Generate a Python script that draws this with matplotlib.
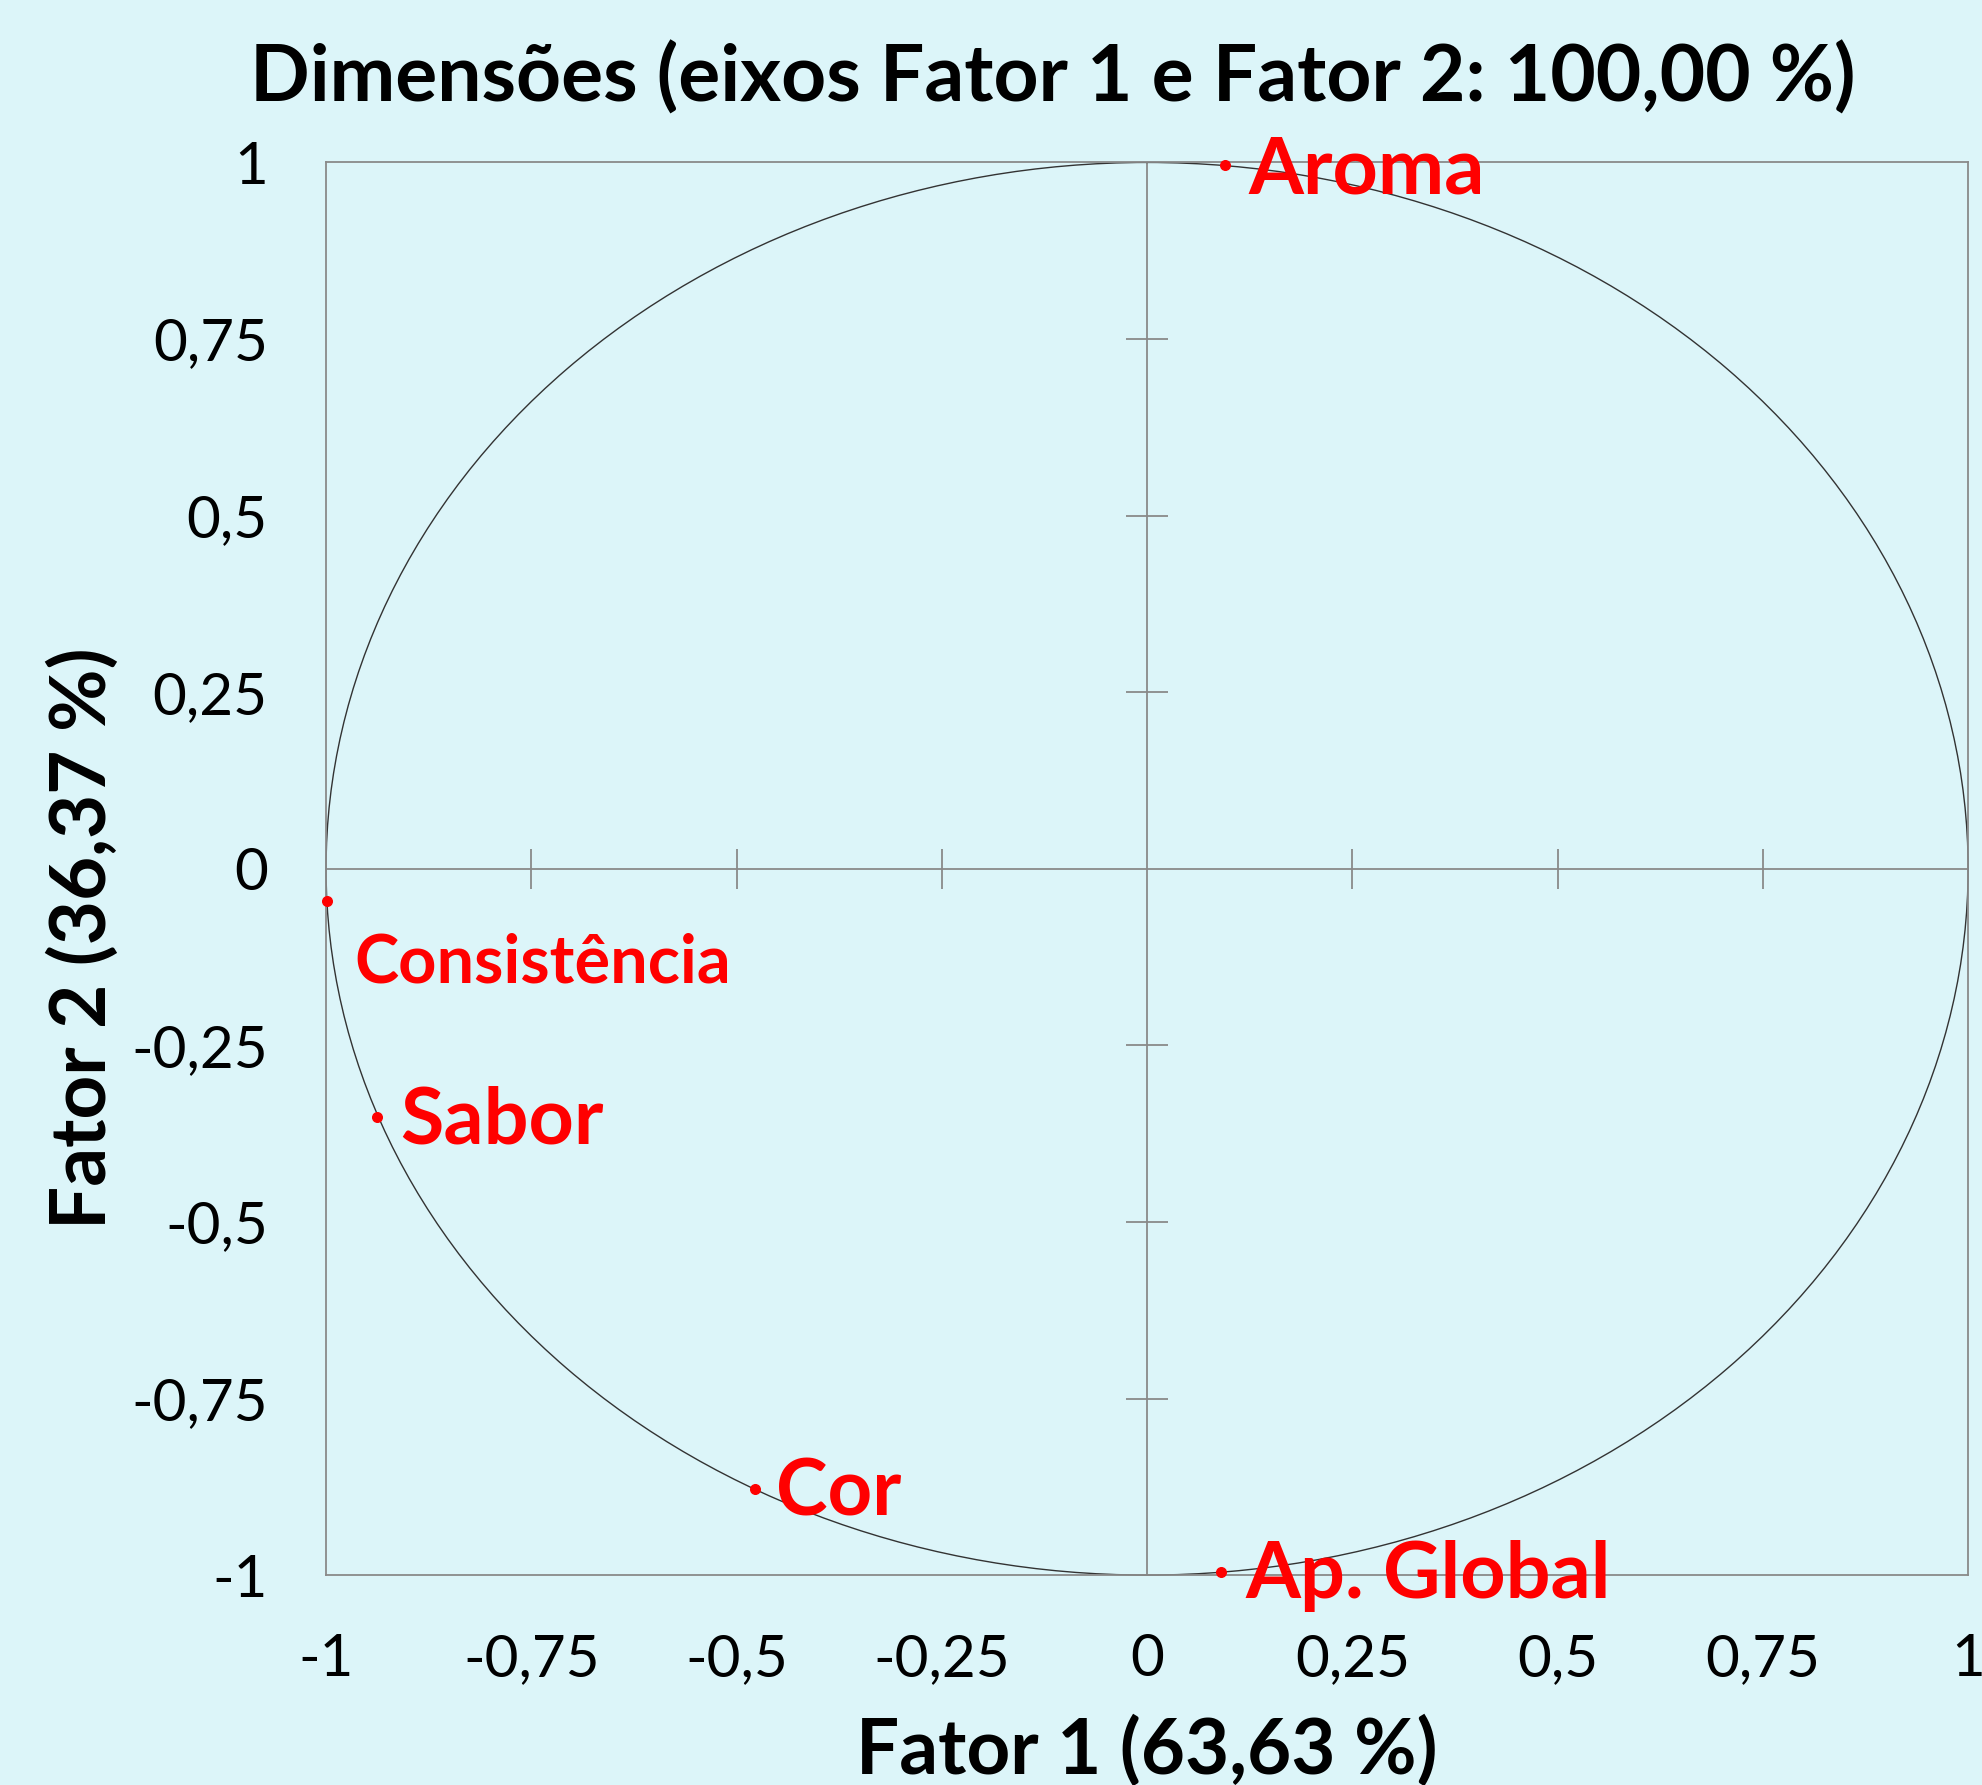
import numpy as np
import matplotlib.pyplot as plt
from matplotlib.patches import Circle

plt.rcParams['font.family'] = ['Lato', 'DejaVu Sans']

# variaveis (correlacoes com os fatores)
variaveis = ['Aroma', 'Consistência', 'Sabor', 'Cor', 'Ap. Global']
fator1 = [0.095, -0.999, -0.938, -0.478, 0.090]
fator2 = [0.996, -0.045, -0.351, -0.878, -0.995]

ticks = [-1, -0.75, -0.5, -0.25, 0, 0.25, 0.5, 0.75, 1]
tick_labels = ['-1', '-0,75', '-0,5', '-0,25', '0', '0,25', '0,5', '0,75', '1']

# deslocamento dos rotulos (pixels) e tamanho da fonte
offsets = [(23, -6), (28, -63), (23, -5), (21, -5), (24, -4)]
sizes = [57, 48, 57, 56, 57]

bg = '#dcf5f9'
cinza = '#8a8a8a'

fig = plt.figure(figsize=(19.82, 17.85), dpi=100, facecolor=bg)
ax = fig.add_axes([0.1645, 0.1176, 0.8285, 0.7914], facecolor=bg)

ax.set_xlim(-1, 1)
ax.set_ylim(-1, 1)

for s in ax.spines.values():
    s.set_color(cinza)
    s.set_linewidth(1.3)

ax.set_xticks(ticks)
ax.set_xticklabels(tick_labels)
ax.set_yticks(ticks)
ax.set_yticklabels(tick_labels)
ax.tick_params(axis='both', length=0, labelsize=42)
ax.tick_params(axis='x', pad=42)
ax.tick_params(axis='y', pad=42)

# eixos centrais com marcas
ax.axhline(0, color=cinza, lw=1.3, zorder=1)
ax.axvline(0, color=cinza, lw=1.3, zorder=1)
inner = [t for t in ticks if t not in (-1, 0, 1)]
ax.vlines(inner, -0.028, 0.028, color=cinza, lw=1.3, zorder=1)
ax.hlines(inner, -0.026, 0.026, color=cinza, lw=1.3, zorder=1)

# circulo de correlacoes
ax.add_patch(Circle((0, 0), 1, fill=False, edgecolor='#333333', lw=1.0, zorder=2, clip_on=False))

ax.scatter(fator1, fator2, s=48, color='red', zorder=3, clip_on=False)
for nome, x, y, off, fs in zip(variaveis, fator1, fator2, offsets, sizes):
    ax.annotate(nome, (x, y), xytext=off, textcoords='offset pixels',
                color='red', fontsize=fs, fontweight='bold',
                ha='left', va='center', zorder=4, annotation_clip=False)

fig.text(0.531, 0.956, 'Dimensões (eixos Fator 1 e Fator 2: 100,00 %)',
         ha='center', va='center', fontsize=56.5, fontweight='bold')
fig.text(0.5787, 0.019, 'Fator 1 (63,63 %)', ha='center', va='center',
         fontsize=55, fontweight='bold')
fig.text(0.0415, 0.4745, 'Fator 2 (36,37 %)', ha='center', va='center',
         rotation=90, fontsize=55, fontweight='bold')

fig.savefig('out.png', dpi=100, facecolor=bg)
